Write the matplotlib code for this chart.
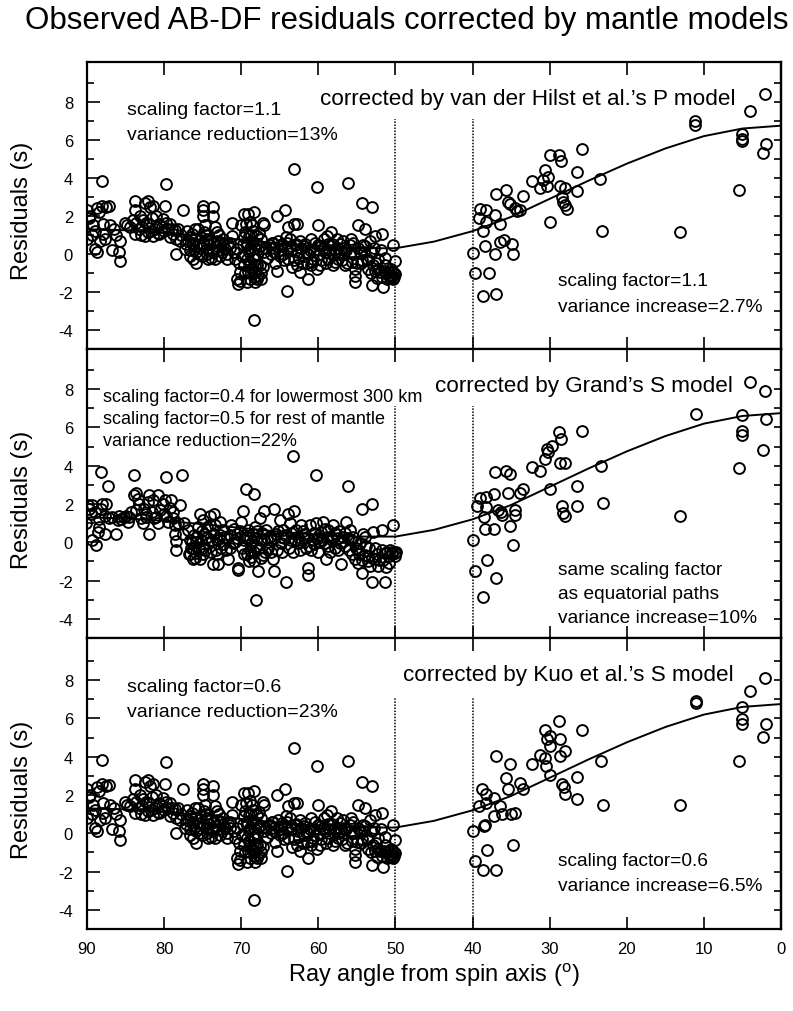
import matplotlib
matplotlib.use('Agg')
import matplotlib.pyplot as plt

plt.rcParams['font.family'] = ['Liberation Sans', 'DejaVu Sans']
plt.rcParams['axes.unicode_minus'] = False
plt.rcParams['mathtext.fontset'] = 'custom'
plt.rcParams['mathtext.rm'] = 'Liberation Sans'

# ---------------- data ----------------
# Panel 1: van der Hilst et al.'s P model, equatorial-ish paths (50-90 deg)
vdh_left_angle = [
    90.0, 90.0, 89.6, 89.2, 88.7, 88.1, 88.5, 89.0, 88.7, 88.3, 87.9, 87.5, 87.2, 87.9, 87.7, 86.8, 85.9, 85.7, 85.7, 88.1, 89.4,
    85.1, 84.4, 83.8, 83.8, 83.6, 83.8, 83.1, 82.9, 82.5, 82.1, 82.3, 81.8, 81.6, 81.4, 81.2, 81.0, 80.6, 82.5, 82.1, 81.4, 80.6,
    79.9, 79.8, 80.1, 79.7, 79.2, 79.0, 78.8, 78.6, 79.2, 78.2, 78.4, 78.0, 78.4, 77.5, 77.3, 76.9,
    76.4, 76.2, 76.2, 76.0, 75.8, 75.8, 75.6, 75.3, 75.1, 74.9, 74.9, 74.9, 74.8, 74.7, 74.5, 74.5, 74.3, 73.8, 73.6, 73.6,
    73.4, 73.2, 73.2, 73.0, 72.7, 73.4, 72.3, 72.1, 71.9, 71.7, 71.2, 71.2, 71.0, 70.8, 70.6, 70.6, 70.4, 70.2,
    70.0, 69.7, 69.5, 69.3, 69.3, 69.1, 69.1, 69.0, 69.0, 68.8, 68.8, 68.6, 68.6, 68.4, 68.4, 68.4, 68.2, 68.2, 68.0, 67.8,
    67.8, 67.6, 67.4, 67.4, 67.2, 67.0, 67.0, 67.2,
    66.3, 65.8, 65.6, 65.4, 65.4, 65.2, 65.0, 64.7, 64.3, 64.1, 63.9, 63.9, 63.7, 63.2, 63.2, 63.0, 62.8, 62.8, 62.6, 62.4,
    62.4, 61.9, 61.7, 61.5, 61.3, 64.1, 61.1, 60.9, 60.7, 60.2, 60.1, 60.0, 59.8, 60.2,
    59.3, 59.1, 58.9, 58.7, 58.5, 58.3, 58.1, 57.8, 57.6, 57.4, 57.2, 57.0, 56.8, 56.6, 56.1, 55.9, 55.5, 55.3, 55.3, 55.0,
    54.8, 54.6, 54.4, 54.2, 54.0, 53.7, 53.5, 53.3, 53.1, 53.1, 52.9, 52.6, 53.1, 52.4, 52.2, 52.0, 51.8, 51.6, 51.4, 51.1,
    50.9, 50.7, 50.5, 50.3, 50.3, 50.1, 50.0, 50.3,
    66.8, 66.0, 65.7, 64.9, 64.5, 64.0, 63.5, 63.4, 62.2, 62.0, 61.6, 61.0, 60.5, 59.6, 59.6, 58.8, 58.0, 57.5, 56.9, 56.4,
    55.7, 55.6, 54.9, 54.3, 53.9, 52.8, 52.5, 51.9, 51.3,
    69.8, 69.6, 69.2, 68.9, 68.5, 68.3, 68.1, 67.9, 69.4, 68.7, 69.9, 70.1,
    76.7, 76.5, 75.5, 75.2, 74.2, 73.9, 73.5, 72.9, 72.5, 71.5, 77.8, 77.1, 81.9, 80.3, 83.3, 84.8, 86.5, 88.9, 89.8,
    69.5, 69.2, 69.0, 68.8, 68.6, 68.5, 68.3, 68.2, 68.0, 67.9, 67.6, 67.5, 69.7, 70.3, 68.9, 67.7,
    76.6, 76.3, 75.9, 75.4, 75.0, 74.6, 74.4, 74.0, 73.7, 73.1, 72.8, 72.4, 71.8, 71.4, 77.0, 76.0,
    66.6, 66.2, 65.9, 65.1, 64.6, 64.2, 63.6, 63.1, 62.9, 62.5, 61.8, 61.4, 60.8, 60.4, 59.9, 59.4, 59.0, 58.6, 58.2, 57.9,
    57.3, 56.7, 56.3, 55.8, 55.4, 55.2, 54.5, 54.1, 53.6, 53.2, 52.7, 52.3, 51.7, 51.5, 51.2, 50.8, 50.6, 50.2,
    87.0, 86.2, 84.0, 83.0, 82.7, 81.7, 80.8, 80.0, 79.5,
]
vdh_left_resid = [
    0.8, 2.3, 2.0, 1.5, 2.4, 3.85, 2.2, 0.25, 0.1, 0.7, 1.05, 2.45, 2.5, 1.6, 0.8, 0.2, 0.1, -0.35, 0.7, 2.55, 1.0,
    1.65, 1.4, 2.8, 2.3, 1.65, 1.05, 2.0, 1.4, 2.7, 2.8, 1.65, 2.45, 1.9, 2.55, 1.3, 2.0, 1.6, 0.95, 1.15, 0.95, 1.05,
    2.55, 3.7, 1.85, 1.65, 1.6, 1.3, 1.05, 1.25, 0.9, 1.3, 0.8, 0.7, 0.0, 2.3, 0.25, 0.7,
    1.05, 0.45, -0.25, 0.8, 0.1, -0.5, 1.3, 0.55, -0.1, 2.55, 2.3, 2.0, 1.15, 1.5, 0.8, 0.25, -0.25, 0.25, 2.45, 2.0,
    1.4, 1.15, 0.7, 0.2, 0.6, -0.25, 0.8, 0.25, -0.25, 0.55, 1.65, 0.95, 0.1, -0.25, 0.25, -1.3, -1.6, -0.95,
    1.5, 2.1, 1.15, 0.45, -0.25, 2.1, -0.95, 0.95, 0.1, -0.6, -1.3, 1.5, 0.6, 2.2, -3.5, -0.95, -0.25, -1.5, 0.95, -1.15,
    0.25, -0.6, 0.8, -1.3, 1.65, 1.5, 0.1, -0.7,
    0.45, 0.1, -0.45, -0.9, 2.0, 0.7, -0.1, 0.55, 2.3, 0.25, 1.4, -0.25, 0.8, 4.45, 1.6, 0.45, 1.6, -0.6, 0.1, 0.7,
    -0.95, -0.1, 0.55, -0.45, -1.3, -1.95, 0.2, 0.8, -0.25, 3.5, 1.5, 0.45, -0.6, -0.8,
    0.8, 0.1, 0.95, -0.25, 0.45, 1.15, -0.6, 0.25, 0.8, -0.25, 0.55, 0.1, 0.7, -0.6, 3.75, 0.45, 0.6, -1.15, -1.5, -0.45,
    1.5, 0.1, 2.7, 0.45, 1.3, -0.25, -0.8, 0.7, 2.45, 0.1, -0.6, 0.95, -1.65, -1.25, -0.25, -0.95, 1.05, -1.75, -0.6, -1.3,
    -0.95, -1.25, -1.15, -1.3, 0.45, -1.05, -0.35, -0.95,
    0.3, 0.6, 0.3, 0.4, -0.3, 0.6, 0.2, -0.7, 0.3, -0.5, 0.1, -0.6, 0.2, 0.4, -0.3, 0.5, 0.0, 0.3, -0.3, 0.2,
    0.1, -0.4, 0.3, -0.3, 0.4, 0.3, -0.5, 0.2, -0.2,
    0.5, -0.6, -1.5, 0.3, -0.2, -1.2, 0.5, -0.6, 1.6, 1.0, -0.1, -1.4,
    0.2, 0.9, 0.0, 0.9, 0.5, -0.2, 0.6, 1.0, 0.1, 0.3, 1.0, 0.5, 1.6, 1.4, 1.3, 1.5, 1.3, 1.2, 1.9,
    -1.0, 0.6, -0.4, 0.2, -0.8, 1.2, 0.3, -0.6, -1.3, 0.0, 0.4, -1.0, 0.9, -0.5, 1.7, 1.1,
    -0.1, 0.6, 0.4, 0.3, 0.5, 1.0, 0.0, 0.7, 0.1, 0.4, -0.1, 0.5, 0.0, 0.6, 1.2, 1.3,
    -0.2, 0.0, 0.6, 0.2, 0.0, 0.9, 0.4, -0.3, 0.5, -0.2, 0.4, 0.0, -0.4, 0.6, 0.0, 0.3, -0.5, 0.2, 0.5, -0.4,
    0.0, 0.3, -0.5, 0.8, 0.0, -0.8, -0.5, 0.1, -0.3, -1.0, -0.9, -0.8, -1.2, -0.9, -1.0, -1.1, -0.8, -1.2,
    1.5, 1.0, 1.8, 1.0, 1.8, 1.2, 1.1, 1.2, 1.3,
]
# Panel 1: polar paths (0-40 deg)
vdh_right_angle = [
    39.9, 39.7, 39.2, 39.0, 38.6, 38.4, 38.6, 38.2, 38.2, 37.9, 37.1, 37.1, 36.9, 37.0, 36.4, 36.5, 35.9, 35.6, 35.4, 35.1,
    34.9, 34.7, 34.5, 34.3, 33.8, 33.4, 32.3, 31.3, 30.8, 30.6, 30.4, 30.2, 30.0, 30.0, 28.8, 28.5, 28.7, 28.4, 28.3, 28.0,
    28.0, 27.8, 26.5, 26.4, 25.8, 23.5, 23.2, 13.1, 11.1, 11.1, 5.4, 5.1, 5.1, 5.1, 4.0, 2.3, 1.9, 2.1,
]
vdh_right_resid = [
    0.05, -1.0, 1.9, 2.35, 1.2, 0.4, -2.2, 2.3, 1.7, -1.0, 2.05, 0.0, -2.1, 3.15, 1.6, 0.65, 0.75, 3.35, 2.75, 2.65,
    0.5, 0.0, 2.4, 2.25, 2.3, 3.05, 3.85, 3.45, 3.9, 4.4, 3.6, 4.05, 5.2, 1.7, 5.2, 4.9, 3.55, 3.0, 2.75, 3.45,
    2.6, 2.35, 4.3, 3.3, 5.5, 3.95, 1.2, 1.15, 7.0, 6.8, 3.35, 6.3, 6.05, 5.95, 7.5, 5.3, 5.8, 8.4,
]

# Panel 2: Grand's S model
grand_left_angle = [
    90.1, 89.9, 89.7, 89.5, 89.3, 89.3, 88.8, 88.6, 88.4, 88.2, 88.2, 88.0, 87.7, 87.7, 87.5, 87.3, 87.1, 86.2, 86.0, 85.8,
    85.2, 84.7, 84.3, 83.9, 83.9, 83.6, 83.4, 83.2, 83.0, 82.8, 82.6, 82.1, 81.9, 81.9, 81.5, 81.3, 80.8, 80.8, 80.2, 79.9,
    79.8, 79.7, 79.5, 79.1, 78.9, 78.6, 78.6, 78.4, 78.4, 78.0, 77.7, 77.6,
    76.9, 76.7, 76.5, 76.3, 76.1, 75.8, 75.6, 75.4, 75.4, 75.2, 74.9, 74.9, 74.8, 74.5, 74.3, 74.1, 73.9, 73.7, 73.5, 73.5,
    73.2, 73.0, 72.8, 72.6, 72.4, 72.2, 71.7, 71.3, 71.1, 70.6, 70.4, 70.4, 70.0, 69.8, 69.6, 69.4, 69.1, 68.9, 68.7, 68.5,
    68.3, 68.3, 68.1, 68.1, 67.8, 67.6, 67.4, 67.2, 67.0, 66.8, 66.5, 66.3, 65.9, 65.7, 65.7, 65.5, 65.0, 64.8, 64.6, 64.2,
    63.9, 63.7, 63.5, 63.3, 63.3, 63.1, 62.9, 62.6, 62.2, 61.8, 61.6, 61.4, 61.4, 61.1, 60.7, 60.3, 60.3, 60.0, 59.6, 59.4,
    59.2, 59.0, 58.7, 58.3, 58.1, 57.9, 57.7, 57.2, 57.0, 56.6, 56.4, 56.2, 55.9, 55.5, 55.3, 55.1, 54.9, 54.6, 54.4, 54.4,
    54.2, 54.0, 53.8, 53.3, 53.1, 53.1, 52.9, 52.7, 52.2, 51.8, 51.4, 51.4, 50.9, 50.7, 50.5, 50.3, 50.1, 49.9,
    76.8, 76.4, 76.0, 75.7, 75.0, 74.6, 74.0, 73.3, 72.9, 72.0, 71.5, 70.8, 70.2, 69.7, 69.3, 69.0, 68.6, 68.0, 67.7, 67.3,
    66.9, 66.1, 65.3, 64.9, 64.4, 63.8, 62.7, 62.4, 61.9, 61.2, 60.6, 60.1, 59.8, 58.9, 58.5, 57.5, 57.3, 56.8, 56.0, 55.7,
    54.7, 53.6, 53.4, 52.4, 51.6, 51.1, 85.6, 84.5, 82.3, 81.0, 80.0, 78.8, 77.4,
    76.6, 76.2, 75.9, 75.5, 75.1, 74.7, 74.4, 73.8, 73.4, 73.1, 72.7, 72.3, 71.9, 71.4, 70.9, 70.5, 69.9, 69.5, 69.2, 68.8,
    68.4, 68.2, 67.9, 67.5, 67.1, 66.6, 66.2, 65.8, 65.2, 64.7, 64.3, 63.6, 63.0, 62.3, 62.0, 61.5, 61.0, 60.5, 59.9, 59.5,
    59.1, 58.8, 58.2, 57.8, 57.4, 56.9, 56.5, 56.1, 55.6, 55.2, 54.8, 54.3, 53.9, 53.5, 53.0, 52.6, 52.1, 51.7, 51.2, 50.8,
    50.4, 50.0, 89.0, 88.5, 86.8, 84.9, 83.7, 82.4, 81.6, 80.5, 79.3, 78.2,
]
grand_left_resid = [
    1.0, 1.95, 1.75, 1.5, 1.95, 0.1, -0.15, 0.55, 0.8, 3.65, 1.75, 2.0, 1.4, 0.45, 2.0, 2.95, 1.25, 0.45, 1.15, 1.4,
    1.3, 1.05, 1.6, 3.5, 2.45, 2.6, 2.25, 2.0, 1.25, 1.0, 1.75, 2.1, 2.45, 0.45, 2.2, 1.25, 2.45, 1.0, 2.0, 2.2,
    3.4, 1.4, 1.05, 2.2, 1.25, 0.9, 0.45, 0.05, -0.4, 1.95, 3.5, 0.45,
    0.65, 0.1, -0.3, -0.85, 0.4, -0.55, 0.8, 1.5, -0.85, 0.1, 1.15, -0.3, 0.45, 0.8, -0.05, 1.4, -0.5, -1.15, 1.5, 0.45,
    0.1, -1.15, 1.05, -0.3, 0.65, 0.3, -0.85, 0.9, -0.05, 0.45, -1.35, -1.45, 1.05, 1.65, 0.1, 2.8, 0.65, -0.4, -0.75, 0.45,
    2.55, -1.0, -0.2, -3.0, -1.5, 1.25, 0.1, -0.65, 1.65, 0.65, -0.3, 0.3, -0.85, 1.75, -1.5, 0.45, 1.15, -0.05, 0.65, -2.05,
    1.5, 1.0, 0.1, 4.5, -0.5, 1.65, 0.65, -0.05, 0.9, 0.45, -0.3, -1.35, -1.7, 0.9, 0.1, 3.5, 1.0, -0.5, 0.55, 1.05,
    -0.05, -0.85, 0.65, 0.3, 0.9, -0.3, 0.45, -0.05, -1.15, -0.2, 1.05, 2.95, 0.65, 0.3, -0.85, -0.3, -1.1, -0.05, -1.6, 1.75,
    0.45, -0.65, -0.2, -1.25, 2.0, -2.1, 0.55, -0.85, -1.25, 0.65, -2.1, -0.55, -1.1, -0.4, -0.5, 0.9, -0.55, -0.5,
    -0.6, 0.0, -0.8, 0.3, -0.6, 0.2, 0.9, -0.4, 0.2, -0.4, 0.4, 0.0, 0.6, -0.6, 0.3, -1.0, 0.0, 0.6, -0.3, 0.5,
    -0.5, 0.1, -0.4, 0.3, 0.2, -0.3, 0.3, -0.4, 0.2, -0.2, 0.5, 0.2, 0.0, 0.3, -0.5, 0.2, 0.6, 0.3, -0.4, 0.1,
    -0.6, -0.7, -0.3, -0.6, -0.9, -0.5, 1.2, 1.3, 1.5, 1.3, 1.5, 1.6, 1.0,
    -0.6, -0.3, 0.0, -0.3, 0.6, -0.4, 0.3, 0.1, 0.9, -0.6, 0.4, -0.1, 0.2, -0.3, 0.7, 0.2, -0.3, 0.4, -0.6, 0.2,
    -0.5, 0.8, 0.2, -0.8, 0.1, 0.2, -0.5, 0.2, 0.6, -0.5, 0.4, 0.5, 0.1, 0.0, 0.6, 0.3, -0.4, -0.1, 0.4, 0.1,
    0.7, -0.2, 0.1, 0.5, -0.4, 0.0, 0.5, 0.2, -0.6, 0.0, -0.4, -0.9, 0.3, -1.0, -0.8, -0.3, -0.9, -0.4, -1.3, -0.7,
    -0.6, -0.7, 1.6, 1.2, 1.3, 1.4, 1.7, 1.3, 1.6, 1.7, 1.8, 1.0,
]
grand_right_angle = [
    39.9, 39.7, 39.4, 39.0, 38.6, 38.5, 38.4, 38.2, 38.2, 38.1, 37.2, 37.2, 37.1, 36.9, 36.7, 36.3, 36.2, 35.6, 35.4, 35.1,
    35.1, 34.7, 34.5, 34.5, 33.8, 33.4, 32.3, 31.2, 30.6, 30.4, 30.2, 30.0, 29.7, 28.8, 28.7, 28.5, 28.4, 28.3, 28.0, 27.96,
    26.5, 26.5, 25.8, 23.4, 23.1, 13.1, 11.0, 5.4, 5.1, 5.1, 5.1, 4.0, 2.3, 2.1, 1.9,
]
grand_right_resid = [
    0.1, -1.5, 1.9, 2.3, -2.85, 1.3, 0.7, 2.35, 1.85, -0.9, 2.5, 0.7, 3.65, -1.85, 1.7, 1.6, 1.45, 3.75, 2.6, 3.55,
    0.85, -0.15, 1.7, 1.45, 2.6, 2.8, 3.95, 3.75, 4.35, 4.9, 4.7, 2.8, 5.05, 5.75, 4.15, 5.4, 1.9, 1.55, 4.15, 1.4,
    2.95, 1.9, 5.8, 4.0, 2.05, 1.4, 6.7, 3.9, 6.65, 5.8, 5.6, 8.4, 4.8, 7.9, 6.45,
]

# Panel 3: Kuo et al.'s S model (the 50-90 deg cloud is the same as in panel 1)
kuo_left_angle = list(vdh_left_angle)
kuo_left_resid = list(vdh_left_resid)
kuo_right_angle = [
    39.9, 39.7, 39.2, 38.8, 38.6, 38.5, 38.4, 38.2, 38.2, 38.1, 37.2, 37.2, 36.95, 36.9, 36.5, 36.2, 35.6, 35.4, 35.1, 35.0,
    34.7, 34.5, 33.8, 33.4, 32.3, 31.2, 30.6, 30.6, 30.5, 30.3, 29.95, 30.0, 29.9, 28.8, 28.6, 28.6, 28.4, 28.2, 27.96, 27.96,
    26.5, 26.5, 25.8, 23.4, 23.1, 13.1, 11.0, 11.0, 5.4, 5.1, 5.1, 5.1, 4.0, 2.3, 1.9, 2.1,
]
kuo_right_resid = [
    0.1, -1.45, 1.45, 2.3, -1.9, 0.4, 0.45, 2.05, 1.6, -0.85, 0.9, 1.85, 4.05, -1.9, 1.45, 1.0, 2.9, 2.3, 3.6, 1.0,
    -0.6, 1.05, 2.65, 2.3, 3.6, 4.1, 5.4, 3.95, 3.5, 4.95, 5.1, 3.05, 4.55, 5.85, 4.95, 4.05, 2.55, 2.4, 4.3, 2.05,
    2.95, 1.8, 5.4, 3.8, 1.5, 1.5, 6.9, 6.8, 3.8, 6.6, 5.95, 5.7, 7.45, 5.05, 5.7, 8.1,
]

# fitted curve
curve_angle = [90, 85, 80, 75, 70, 65, 60, 55, 50, 45, 40, 35, 30, 25, 20, 15, 10, 5, 0]
curve_resid = [1.3, 1.25, 1.12, 0.95, 0.75, 0.55, 0.4, 0.3, 0.3, 0.65, 1.2, 1.95, 2.9, 3.85, 4.75, 5.55, 6.2, 6.6, 6.75]

title = 'Observed AB-DF residuals corrected by mantle models'
model_labels = ["corrected by van der Hilst et al.\u2019s P model",
                "corrected by Grand\u2019s S model",
                "corrected by Kuo et al.\u2019s S model"]
left_notes = [["scaling factor=1.1", "variance reduction=13%"],
              ["scaling factor=0.4 for lowermost 300 km", "scaling factor=0.5 for rest of mantle",
               "variance reduction=22%"],
              ["scaling factor=0.6", "variance reduction=23%"]]
right_notes = [["scaling factor=1.1", "variance increase=2.7%"],
               ["same scaling factor", "as equatorial paths", "variance increase=10%"],
               ["scaling factor=0.6", "variance increase=6.5%"]]
x_ticks = [90, 80, 70, 60, 50, 40, 30, 20, 10, 0]
y_ticks = [-4, -2, 0, 2, 4, 6, 8]

# ---------------- figure ----------------
W, H = 793, 1012
fig = plt.figure(figsize=(W / 100, H / 100), dpi=100)

left_px, right_px = 87, 781
panel_px = [(63, 350), (350, 639), (639, 930)]
ylims = [(-5.0, 10.1), (-4.9, 10.1), (-5.0, 10.2)]
data = [(vdh_left_angle + vdh_right_angle, vdh_left_resid + vdh_right_resid),
        (grand_left_angle + grand_right_angle, grand_left_resid + grand_right_resid),
        (kuo_left_angle + kuo_right_angle, kuo_left_resid + kuo_right_resid)]
left_note_y = [[7.6, 6.3], [7.6, 6.45, 5.3], [7.65, 6.35]]
right_note_y = [[-1.4, -2.75], [-1.4, -2.65, -3.95], [-1.4, -2.75]]
label_y = [8.2, 8.2, 8.3]
left_note_x = [84.8, 87.9, 84.8]
left_note_size = [14, 13, 14]

for i, (top, bot) in enumerate(panel_px):
    ax = fig.add_axes([left_px / W, 1 - bot / H, (right_px - left_px) / W, (bot - top) / H])
    ax.set_xlim(90, 0)
    ax.set_ylim(*ylims[i])
    for s in ax.spines.values():
        s.set_linewidth(1.6)

    xs, ys = data[i]
    ax.plot(xs, ys, linestyle='none', marker='o', ms=7.8, mfc='none', mec='black', mew=1.4, zorder=3)
    ax.plot(curve_angle, curve_resid, color='black', lw=1.4, zorder=4)
    for xv in (50, 40):
        ax.vlines(xv, ylims[i][0], 7.1, colors='black', linestyles=(0, (1, 1)), lw=1.1, zorder=2)

    ax.set_xticks(x_ticks)
    ax.set_yticks(y_ticks)
    ax.set_yticks([-5, -3, -1, 1, 3, 5, 7, 9], minor=True)
    ax.tick_params(axis='x', which='major', direction='in', length=9, width=1.2,
                   top=True, bottom=True, labelbottom=(i == 2), labelsize=12, pad=9)
    ax.tick_params(axis='y', which='major', direction='in', length=9, width=1.2,
                   left=True, right=False, labelsize=12, pad=10)
    ax.tick_params(axis='y', which='minor', direction='in', length=5, width=1.2,
                   left=True, right=False)
    sec = ax.secondary_yaxis('right')
    sec.set_yticks(list(range(-4, 10)))
    sec.tick_params(direction='in', length=5, width=1.2, labelright=False)
    sec.spines['right'].set_linewidth(1.6)

    ax.text(5.95 if i == 0 else 6.2, label_y[i], model_labels[i], ha='right', va='center', fontsize=16.2)
    for t, yv in zip(left_notes[i], left_note_y[i]):
        ax.text(left_note_x[i], yv, t, ha='left', va='center', fontsize=left_note_size[i])
    for t, yv in zip(right_notes[i], right_note_y[i]):
        ax.text(28.9, yv, t, ha='left', va='center', fontsize=13.8)

    fig.text(22 / W, 1 - [211, 500, 790][i] / H, 'Residuals (s)', rotation=90,
             ha='center', va='center', fontsize=17)

fig.text(407 / W, 1 - 21 / H, title, ha='center', va='center', fontsize=22.5)
fig.text(434 / W, 1 - 975 / H, r'Ray angle from spin axis ($^{\mathrm{o}}$)', ha='center', va='center', fontsize=17)

fig.savefig('out.png', dpi=100)
